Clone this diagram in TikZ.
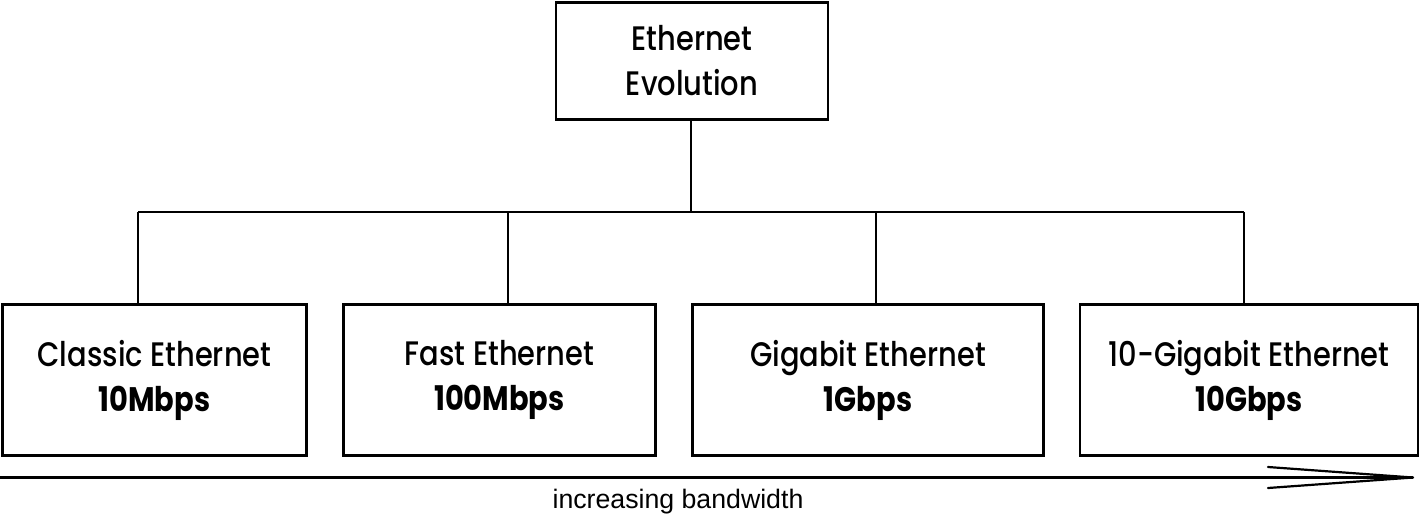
\documentclass[tikz,border=0pt]{standalone}
\usepackage{fontspec}
\setmainfont{Poppins}[FakeStretch=0.85, UprightFont=* Medium, BoldFont=* Bold]
\newfontfamily\arialfont{Liberation Sans}
\begin{document}
\begin{tikzpicture}[x=1pt,y=-1pt,
  box/.style={draw, line width=2.6pt, inner sep=0pt, align=center,
    font=\fontsize{34}{45}\selectfont},
  wire/.style={line width=1.6pt},
  arr/.style={line width=2.2pt, line cap=round}]
\useasboundingbox (0,0) rectangle (1420,517);
\node[box, minimum width=272pt, minimum height=117pt] (top) at (692,61) {Ethernet\\Evolution};
\node[box, minimum width=304pt, minimum height=151pt] (b1) at (154.5,380) {Classic Ethernet\\\textbf{10Mbps}};
\node[box, minimum width=312pt, minimum height=151pt] (b2) at (499.5,380) {Fast Ethernet\\\textbf{100Mbps}};
\node[box, minimum width=351pt, minimum height=151pt] (b3) at (868,380) {Gigabit Ethernet\\\textbf{1Gbps}};
\node[box, minimum width=338pt, minimum height=151pt] (b4) at (1249,380) {10-Gigabit Ethernet\\\textbf{10Gbps}};
\coordinate (j0) at (691,212);
\coordinate (j1) at (138,212);
\coordinate (j2) at (508,212);
\coordinate (j3) at (876,212);
\coordinate (j4) at (1244,212);
\draw[wire] (top.south -| j0) -- (j0);
\draw[wire] (j1) -- (j4);
\draw[wire] (j1) -- (j1 |- b1.north);
\draw[wire] (j2) -- (j2 |- b2.north);
\draw[wire] (j3) -- (j3 |- b3.north);
\draw[wire] (j4) -- (j4 |- b4.north);
\coordinate (a0) at (0,477.5);
\coordinate (a1) at (1413,477.5);
\coordinate (h1) at (1268,467);
\coordinate (h2) at (1268,488);
\draw[line width=2.2pt] (a0) -- (a1);
\draw[arr] (h1) -- (a1);
\draw[arr] (h2) -- (a1);
\node[font=\arialfont\fontsize{26.7}{30}\selectfont, inner sep=0pt] (lbl) at (678,502) {increasing bandwidth};
\end{tikzpicture}
\end{document}
